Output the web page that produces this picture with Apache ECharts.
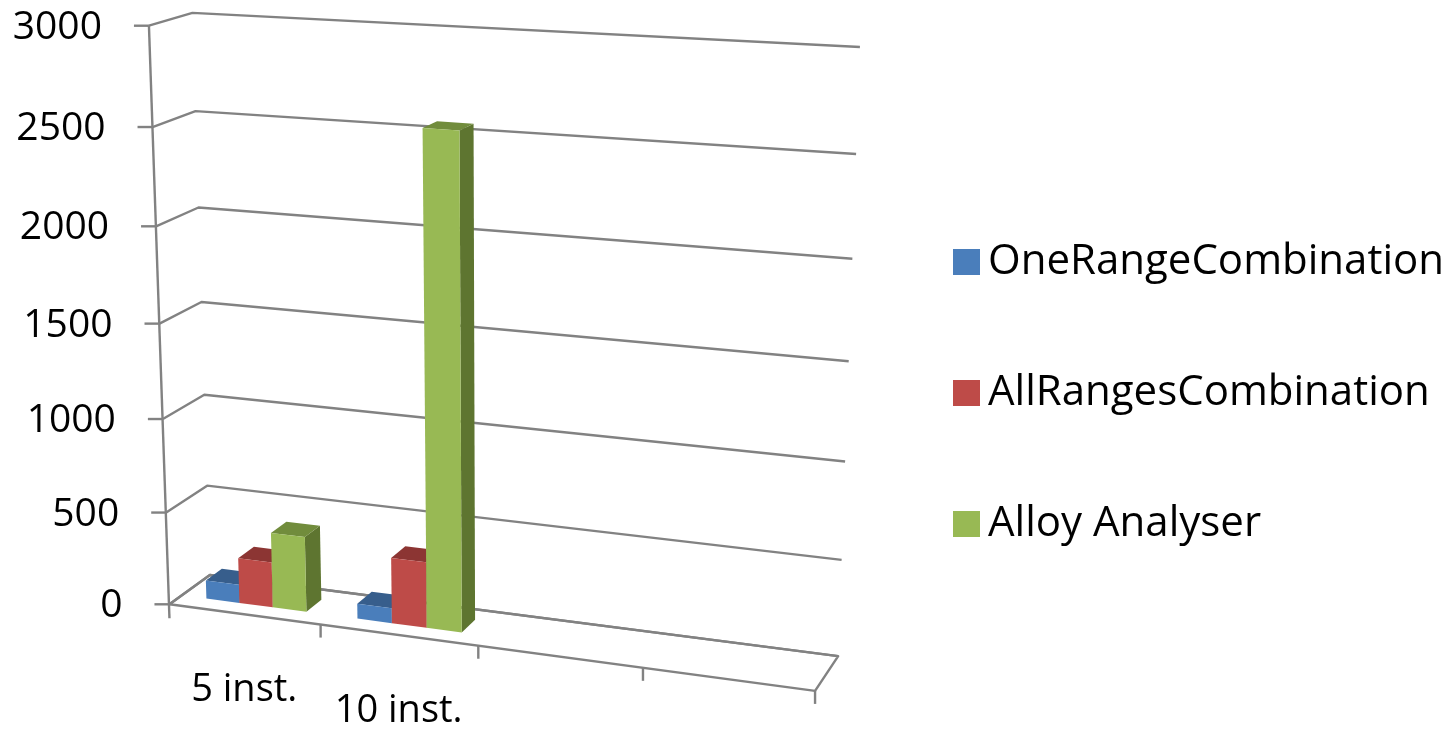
<!DOCTYPE html>
<html>
<head>
<meta charset="utf-8">
<script src="https://cdn.jsdelivr.net/npm/echarts@6/dist/echarts.min.js"></script>
<style>
  html, body { margin: 0; padding: 0; background: #ffffff; }
  #chart { width: 1453px; height: 729px; }
</style>
</head>
<body>
<div id="chart"></div>
<script>
// ---- data ----
const categories = ['5 inst.', '10 inst.', '', ''];
const seriesNames = ['OneRangeCombination', 'AllRangesCombination', 'Alloy Analyser'];
const oneRangeCombination = [100, 80, null, null];
const allRangesCombination = [245, 350, null, null];
const alloyAnalyser = [405, 2555, null, null];
const yTicks = [0, 500, 1000, 1500, 2000, 2500, 3000];

// ---- look ----
const FONT = '"Open Sans", "Liberation Sans", sans-serif';
const LINE = '#828282';
const palette = [
  { front: '#4A7EBB', top: '#375E8C', side: '#2F5075' },
  { front: '#BE4B48', top: '#8C3533', side: '#7A2D2B' },
  { front: '#98B954', top: '#718C3C', side: '#5E7530' }
];
const GAP_WIDTH = 1.5;          // gap between clusters, in bar widths
const DEPTH = [0.3, 0.7];       // column depth inside the box (0 = front, 1 = back)

// ---- perspective camera ----
// Box coordinates: u along the categories, v = value fraction, w = depth.
// Screen anchors of the box edges; a projective camera is fitted to them so
// walls, floor and columns share one perspective.
const boxAnchors = [
  [0, 0, 0, 170, 604], [0, 1 / 6, 0, 167, 513], [0, 1 / 3, 0, 162, 419],
  [0, 2 / 3, 0, 156, 226], [0, 5 / 6, 0, 152, 127], [0, 1, 0, 149, 26],
  [0, 1 / 6, 1, 207, 486], [0, 1 / 3, 1, 204, 395], [0, 2 / 3, 1, 198, 207],
  [0, 5 / 6, 1, 196, 111], [0, 1, 1, 193, 13],
  [1, 1, 1, 860, 47], [1, 5 / 6, 1, 856, 154], [1, 0, 1, 838, 656],
  [0.25, 0, 0, 320, 624], [0.5, 0, 0, 479, 646], [0.75, 0, 0, 643, 668], [1, 0, 0, 815, 691]
];
const NX = 500, NY = 350;

function fitCamera(pts) {
  const n = 11;
  const M = Array.from({ length: n }, () => new Array(n).fill(0));
  const r = new Array(n).fill(0);
  const add = (row, rhs) => {
    for (let i = 0; i < n; i++) {
      r[i] += row[i] * rhs;
      for (let j = 0; j < n; j++) M[i][j] += row[i] * row[j];
    }
  };
  pts.forEach(([u, v, w, sx, sy]) => {
    const x = (sx - NX) / NX, y = (sy - NY) / NY;
    add([u, v, w, 1, 0, 0, 0, 0, -x * u, -x * v, -x * w], x);
    add([0, 0, 0, 0, u, v, w, 1, -y * u, -y * v, -y * w], y);
  });
  for (let c = 0; c < n; c++) {
    let p = c;
    for (let i = c + 1; i < n; i++) if (Math.abs(M[i][c]) > Math.abs(M[p][c])) p = i;
    [M[c], M[p]] = [M[p], M[c]];
    [r[c], r[p]] = [r[p], r[c]];
    for (let i = 0; i < n; i++) {
      if (i === c) continue;
      const f = M[i][c] / M[c][c];
      if (!f) continue;
      for (let j = c; j < n; j++) M[i][j] -= f * M[c][j];
      r[i] -= f * r[c];
    }
  }
  return r.map((val, i) => val / M[i][i]);
}
const cam = fitCamera(boxAnchors);
function project(u, v, w) {
  const d = cam[8] * u + cam[9] * v + cam[10] * w + 1;
  const x = (cam[0] * u + cam[1] * v + cam[2] * w + cam[3]) / d;
  const y = (cam[4] * u + cam[5] * v + cam[6] * w + cam[7]) / d;
  return [x * NX + NX, y * NY + NY];
}

// value -> v fraction through the chart's own y scale
function vOf(api, cs, value) {
  const p = api.coord([0, value]);
  return (cs.y + cs.height - p[1]) / cs.height;
}
// category boundary -> u fraction through the chart's own x scale
function uOf(api, cs, catIndex, frac) {
  const p = api.coord([catIndex, 0]);
  const bw = api.size([1, 0])[0];
  return (p[0] - bw / 2 + frac * bw - cs.x) / cs.width;
}

const lineStyle = { stroke: LINE, lineWidth: 2.4, fill: null, lineJoin: 'round' };

// back walls: one gridline per y tick, plus the tick mark and its label
function renderWallTick(params, api) {
  const cs = params.coordSys;
  const value = api.value(1);
  const v = vOf(api, cs, value);
  const a = project(0, v, 0), b = project(0, v, 1), c = project(1, v, 1);
  return {
    type: 'group',
    children: [
      { type: 'polyline', shape: { points: [a, b, c] }, style: lineStyle },
      { type: 'line', shape: { x1: a[0] - 15, y1: a[1], x2: a[0], y2: a[1] }, style: lineStyle },
      {
        type: 'text', x: a[0] - 47, y: a[1] + 2,
        style: { text: String(value), fill: '#000', font: '39px ' + FONT, align: 'right', verticalAlign: 'middle' }
      }
    ]
  };
}

// floor, vertical axis line, category ticks and labels
function renderFloor(params, api) {
  const cs = params.coordSys;
  const i = api.value(0);
  const children = [];
  if (params.dataIndex === 0) {
    const fl = project(0, 0, 0), bl = project(0, 0, 1), br = project(1, 0, 1), fr = project(1, 0, 0);
    children.push({ type: 'polygon', shape: { points: [fl, bl, br, fr] }, style: lineStyle });
    const top = project(0, 1, 0);
    children.push({ type: 'line', shape: { x1: top[0], y1: top[1], x2: fl[0], y2: fl[1] + 14 }, style: lineStyle });
  }
  const t = project(uOf(api, cs, i, 1), 0, 0);
  children.push({ type: 'line', shape: { x1: t[0], y1: t[1], x2: t[0], y2: t[1] + 13 }, style: lineStyle });
  const m = project(uOf(api, cs, i, 0.5), 0, 0);
  children.push({
    type: 'text', x: m[0], y: m[1] + 76,
    style: { text: categories[i], fill: '#000', font: '38px ' + FONT, align: 'center', verticalAlign: 'middle' }
  });
  return { type: 'group', children };
}

// 3D columns: front, right side and top faces
function makeBarRenderer(seriesIndex) {
  const colors = palette[seriesIndex];
  const barFrac = 1 / (seriesNames.length + GAP_WIDTH);
  const start = (GAP_WIDTH / 2) * barFrac + seriesIndex * barFrac;
  return function (params, api) {
    const cs = params.coordSys;
    const i = api.value(0);
    const v = vOf(api, cs, api.value(1));
    const uL = uOf(api, cs, i, start), uR = uOf(api, cs, i, start + barFrac);
    const [w0, w1] = DEPTH;
    const P = project;
    return {
      type: 'group',
      children: [
        { type: 'polygon', shape: { points: [P(uR, 0, w0), P(uR, 0, w1), P(uR, v, w1), P(uR, v, w0)] }, style: { fill: colors.side } },
        { type: 'polygon', shape: { points: [P(uL, v, w0), P(uR, v, w0), P(uR, v, w1), P(uL, v, w1)] }, style: { fill: colors.top } },
        { type: 'polygon', shape: { points: [P(uL, 0, w0), P(uR, 0, w0), P(uR, v, w0), P(uL, v, w0)] }, style: { fill: colors.front } }
      ]
    };
  };
}

const seriesValues = [oneRangeCombination, allRangesCombination, alloyAnalyser];
const toData = (arr) => arr.map((v, i) => [i, v]).filter(d => d[1] != null);

const chart = echarts.init(document.getElementById('chart'));
chart.setOption({
  animation: false,
  backgroundColor: '#ffffff',
  grid: { left: 170, top: 26, width: 645, height: 578 },
  xAxis: {
    type: 'category', data: categories, show: false
  },
  yAxis: {
    type: 'value', min: 0, max: 3000, interval: 500, show: false
  },
  legend: {
    orient: 'vertical', left: 948, top: 236,
    itemWidth: 27, itemHeight: 26, itemGap: 89, icon: 'rect',
    data: seriesNames,
    textStyle: { fontFamily: FONT, fontSize: 42, color: '#000', lineHeight: 40, padding: [0, 0, 0, 3] }
  },
  series: [
    {
      type: 'custom', name: 'walls', coordinateSystem: 'cartesian2d', z: 1, silent: true,
      data: yTicks.map(t => [0, t]), renderItem: renderWallTick
    },
    {
      type: 'custom', name: 'floor', coordinateSystem: 'cartesian2d', z: 1, silent: true,
      data: categories.map((c, i) => [i, 0]), renderItem: renderFloor
    },
    ...seriesNames.map((name, s) => ({
      type: 'custom', name, coordinateSystem: 'cartesian2d', z: 2,
      itemStyle: { color: palette[s].front },
      data: toData(seriesValues[s]),
      renderItem: makeBarRenderer(s)
    }))
  ]
});
</script>
</body>
</html>
